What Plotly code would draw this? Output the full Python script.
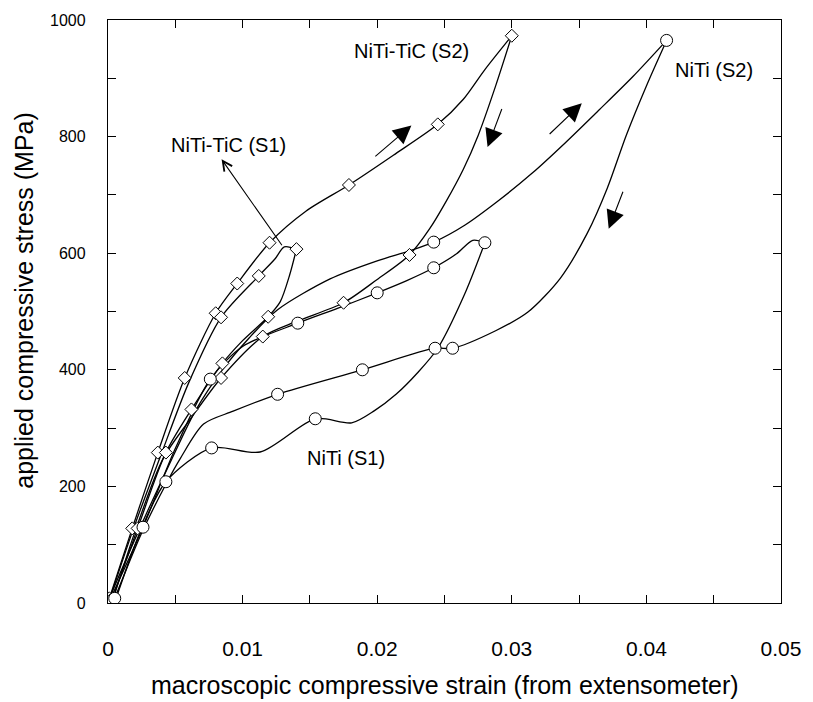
import plotly.graph_objects as go

# ---------------- data ----------------
# NiTi-TiC (S2)  (diamonds)
tic2_load_x = [0.0001, 0.0018, 0.0037, 0.0057, 0.0080, 0.0096, 0.0120, 0.0147, 0.0179, 0.0212, 0.0245, 0.0264, 0.0280, 0.0300]
tic2_load_y = [8, 128, 258, 386, 497, 548, 618, 672, 717, 768, 821, 864, 915, 973]
tic2_unload_x = [0.0300, 0.0288, 0.0275, 0.0264, 0.0251, 0.0239, 0.0224, 0.0200, 0.0175, 0.0140, 0.0115, 0.0084, 0.0062, 0.0041, 0.0020, 0.0004]
tic2_unload_y = [973, 887, 802, 744, 688, 642, 597, 555, 515, 483, 457, 386, 318, 248, 122, 8]
tic2_mark_x = [0.0001, 0.0018, 0.0037, 0.0057, 0.0080, 0.0096, 0.0120, 0.0179, 0.0245, 0.0300, 0.0224, 0.0175, 0.0115, 0.0084]
tic2_mark_y = [8, 128, 258, 386, 497, 548, 618, 717, 821, 973, 597, 515, 457, 386]

# NiTi-TiC (S1)  (diamonds)
tic1_load_x = [0.0001, 0.0019, 0.0040, 0.0060, 0.0084, 0.0112, 0.0124, 0.0131, 0.0140]
tic1_load_y = [5, 128, 258, 378, 490, 561, 590, 611, 607]
tic1_unload_x = [0.0140, 0.0135, 0.0128, 0.0119, 0.0100, 0.0085, 0.0062, 0.0043, 0.0022, 0.0003]
tic1_unload_y = [607, 563, 517, 491, 450, 411, 332, 258, 128, 5]
tic1_mark_x = [0.0002, 0.0022, 0.0043, 0.0084, 0.0112, 0.0140, 0.0119, 0.0085, 0.0062]
tic1_mark_y = [5, 128, 258, 490, 561, 607, 491, 411, 332]

# NiTi (S1)  (circles)
niti1_load_x = [0.0002, 0.0026, 0.0050, 0.0076, 0.0100, 0.0141, 0.0170, 0.0200, 0.0222, 0.0242, 0.0259, 0.0271, 0.0280]
niti1_load_y = [8, 130, 265, 384, 440, 480, 505, 532, 553, 575, 599, 622, 618]
niti1_unload_x = [0.0280, 0.0265, 0.0245, 0.0230, 0.0214, 0.0198, 0.0181, 0.0154, 0.0113, 0.0077, 0.0043, 0.0025, 0.0006]
niti1_unload_y = [618, 530, 437, 395, 358, 330, 309, 316, 259, 266, 208, 128, 8]
niti1_mark_x = [0.0026, 0.0076, 0.0141, 0.0200, 0.0242, 0.0280, 0.0154, 0.0077, 0.0043]
niti1_mark_y = [130, 384, 480, 532, 575, 618, 316, 266, 208]

# NiTi (S2)  (circles)
niti2_load_x = [0.0001, 0.0023, 0.0045, 0.0065, 0.0085, 0.0105, 0.0126, 0.0165, 0.0200, 0.0224, 0.0242, 0.0265, 0.0290, 0.0315, 0.0340, 0.0365, 0.0390, 0.0415]
niti2_load_y = [8, 125, 235, 330, 400, 455, 503, 556, 587, 604, 619, 648, 690, 737, 790, 846, 903, 965]
niti2_unload_x = [0.0415, 0.0400, 0.0385, 0.0371, 0.0356, 0.0336, 0.0312, 0.0288, 0.0256, 0.0243, 0.0189, 0.0126, 0.0093, 0.0071, 0.0054, 0.0044, 0.0025, 0.0005]
niti2_unload_y = [965, 887, 802, 712, 634, 557, 499, 467, 437, 437, 400, 358, 329, 307, 249, 208, 120, 8]
niti2_mark_x = [0.0005, 0.0242, 0.0415, 0.0256, 0.0243, 0.0189, 0.0126]
niti2_mark_y = [8, 619, 965, 437, 437, 400, 358]

x_tick_vals = [0, 0.01, 0.02, 0.03, 0.04, 0.05]
x_tick_text = ["0", "0.01", "0.02", "0.03", "0.04", "0.05"]
y_tick_vals = [0, 200, 400, 600, 800, 1000]
y_tick_text = ["0", "200", "400", "600", "800", "1000"]

FONT = "Liberation Sans, Arial, Helvetica, sans-serif"
LINE = dict(color="black", width=1.3, shape="spline", smoothing=0.8)

fig = go.Figure()

def add_curve(xs, ys):
    fig.add_trace(go.Scatter(x=xs, y=ys, mode="lines", line=LINE,
                             hoverinfo="skip", showlegend=False))

def add_marks(xs, ys, symbol, size):
    fig.add_trace(go.Scatter(x=xs, y=ys, mode="markers", showlegend=False,
                             marker=dict(symbol=symbol, size=size, color="white",
                                         line=dict(color="black", width=1))))

for xs, ys in [(tic2_load_x, tic2_load_y), (tic2_unload_x, tic2_unload_y),
               (tic1_load_x, tic1_load_y), (tic1_unload_x, tic1_unload_y),
               (niti1_load_x, niti1_load_y), (niti1_unload_x, niti1_unload_y),
               (niti2_load_x, niti2_load_y), (niti2_unload_x, niti2_unload_y)]:
    add_curve(xs, ys)

add_marks(tic2_mark_x, tic2_mark_y, "diamond", 10)
add_marks(tic1_mark_x, tic1_mark_y, "diamond", 10)
add_marks(niti1_mark_x, niti1_mark_y, "circle", 12)
add_marks(niti2_mark_x, niti2_mark_y, "circle", 12)

# ---------------- labels and arrows ----------------
labels = [("NiTi-TiC (S2)", 0.02254, 947), ("NiTi-TiC (S1)", 0.00896, 785),
          ("NiTi (S2)", 0.0450, 915), ("NiTi (S1)", 0.0177, 249)]
for t, x, y in labels:
    fig.add_annotation(x=x, y=y, text=t, showarrow=False,
                       font=dict(family=FONT, size=20, color="black"))

# direction arrows (tail -> head)
arrows = [(0.01975, 764, 0.02254, 819), (0.0293, 850, 0.0282, 782),
          (0.0327, 802, 0.0352, 857), (0.0383, 708, 0.0372, 642)]
for ax_, ay_, x, y in arrows:
    fig.add_annotation(x=x, y=y, ax=ax_, ay=ay_, axref="x", ayref="y",
                       showarrow=True, arrowhead=2, arrowsize=3.3, arrowwidth=1.1,
                       arrowcolor="black", text="")

# pointer for NiTi-TiC (S1) label
fig.add_annotation(x=0.00844, y=761, ax=0.0130, ay=611, axref="x", ayref="y",
                   showarrow=True, arrowhead=5, arrowsize=1.7, arrowwidth=1.1,
                   arrowcolor="black", text="")

# axis titles
fig.add_annotation(xref="paper", yref="paper", x=0.5, y=-0.14,
                   xanchor="center", yanchor="middle",
                   text="macroscopic compressive strain (from extensometer)",
                   showarrow=False, font=dict(family=FONT, size=25, color="black"))
fig.add_annotation(xref="paper", yref="paper", x=-0.125, y=0.52, textangle=-90,
                   xanchor="center", yanchor="middle",
                   text="applied compressive stress (MPa)",
                   showarrow=False, font=dict(family=FONT, size=25, color="black"))

axis_common = dict(showgrid=False, zeroline=False, showline=True, linecolor="black",
                   linewidth=1.4, mirror="ticks", ticks="inside", ticklen=8,
                   tickcolor="black", tickwidth=1)

fig.update_xaxes(range=[0, 0.05], tickvals=x_tick_vals, ticktext=x_tick_text,
                 tickfont=dict(family=FONT, size=21, color="black"),
                 ticklabelstandoff=27,
                 minor=dict(dtick=0.005, tick0=0, ticks="inside", ticklen=8,
                            tickcolor="black", tickwidth=1),
                 **axis_common)
fig.update_yaxes(range=[0, 1000], tickvals=y_tick_vals, ticktext=y_tick_text,
                 tickfont=dict(family=FONT, size=16, color="black"),
                 ticklabelstandoff=18,
                 minor=dict(dtick=100, tick0=0, ticks="inside", ticklen=8,
                            tickcolor="black", tickwidth=1),
                 **axis_common)

fig.update_layout(width=813, height=702, plot_bgcolor="white", paper_bgcolor="white",
                  margin=dict(l=108, r=24, t=17, b=99), showlegend=False)

fig.write_html("out.html")
